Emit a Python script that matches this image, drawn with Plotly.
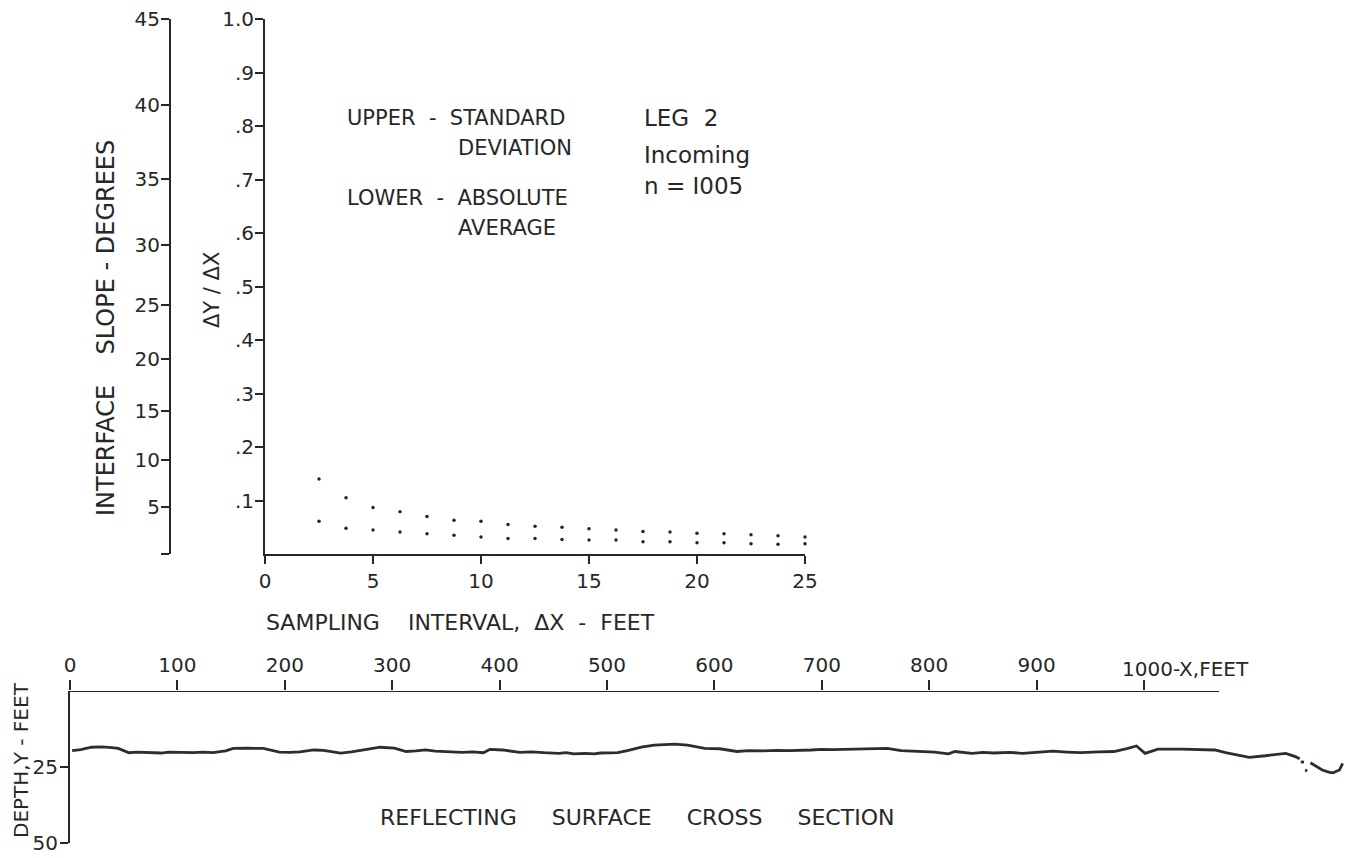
import numpy as np
import plotly.graph_objects as go

# ---------------- data ----------------
# Top chart: sampling interval (feet) vs. slope dy/dx
sampling_interval = [2.5, 3.75, 5.0, 6.25, 7.5, 8.75, 10.0, 11.25, 12.5, 13.75,
                     15.0, 16.25, 17.5, 18.75, 20.0, 21.25, 22.5, 23.75, 25.0]
upper_std_dev = [0.140, 0.105, 0.087, 0.079, 0.070, 0.063, 0.061, 0.055, 0.052, 0.050,
                 0.047, 0.045, 0.042, 0.041, 0.039, 0.038, 0.036, 0.034, 0.032]
lower_abs_avg = [0.061, 0.048, 0.045, 0.041, 0.038, 0.035, 0.032, 0.029, 0.029, 0.027,
                 0.026, 0.026, 0.023, 0.023, 0.021, 0.021, 0.019, 0.018, 0.019]

ratio_ticks = [0.1, 0.2, 0.3, 0.4, 0.5, 0.6, 0.7, 0.8, 0.9, 1.0]
ratio_tick_labels = [".1", ".2", ".3", ".4", ".5", ".6", ".7", ".8", ".9", "1.0"]
degree_ticks = [0, 5, 10, 15, 20, 25, 30, 35, 40, 45]
degree_tick_labels = ["", "5", "10", "15", "20", "25", "30", "35", "40", "45"]
interval_ticks = [0, 5, 10, 15, 20, 25]

# Bottom chart: reflecting surface cross section (x feet, depth feet); None = gap
profile_x = [2, 10, 20, 30, 39, 45, 50, 55, 62, 70, 78, 85, 92, 100, 108, 115, 124, 133,
             145, 152, 165, 180, 195, 205, 214, 227, 236, 245, 252, 262, 270, 280, 289,
             302, 313, 322, 331, 340, 350, 365, 375, 385, 391, 403, 419, 430, 441, 455,
             462, 469, 480, 488, 494, 500, 510, 519, 532, 544, 555, 563, 575, 591, 605,
             621, 632, 646, 658, 670, 690, 700, 710, 730, 745, 761, 774, 790, 805, 818,
             824, 840, 850, 860, 875, 887, 899, 915, 928, 941, 958, 972, 985, 993, 1001,
             1013, 1035, 1050, 1066, 1076, 1098, 1113, 1132, 1141, 1145,
             None, 1146, 1149, None, 1150, 1152, None,
             1155, 1160, 1166, 1172, 1176, 1182, 1185, None, 1190, 1199]
profile_depth = [19.6, 19.3, 18.5, 18.4, 18.6, 18.9, 19.6, 20.3, 20.1, 20.2, 20.5, 20.4,
                 20.1, 20.2, 20.4, 20.3, 20.1, 20.3, 19.7, 18.9, 18.8, 18.9, 20.1, 20.2,
                 20.0, 19.4, 19.5, 20.1, 20.4, 20.0, 19.6, 18.9, 18.5, 18.8, 19.9, 19.7,
                 19.4, 19.8, 19.9, 20.2, 20.0, 20.3, 19.2, 19.4, 20.2, 20.0, 20.3, 20.5,
                 20.3, 20.7, 20.5, 20.7, 20.4, 20.3, 20.3, 19.6, 18.5, 17.8, 17.6, 17.5,
                 17.8, 18.9, 19.0, 19.9, 19.6, 19.7, 19.5, 19.6, 19.4, 19.2, 19.3, 19.2,
                 19.1, 18.9, 19.6, 19.8, 20.1, 20.7, 19.9, 20.5, 20.2, 20.4, 20.2, 20.5,
                 20.1, 19.8, 20.1, 20.3, 20.0, 19.9, 18.9, 18.1, 20.5, 19.1, 19.1, 19.3,
                 19.4, 20.3, 21.8, 21.3, 20.5, 21.6, 22.3,
                 None, 23.3, 23.4, None, 26.0, 26.3, None,
                 23.6, 24.8, 26.0, 26.7, 26.9, 26.0, 23.8, None, 23.5, 23.6]
distance_ticks = [0, 100, 200, 300, 400, 500, 600, 700, 800, 900, 1000]
distance_tick_labels = ["0", "100", "200", "300", "400", "500", "600", "700", "800", "900", ""]
depth_ticks = [25, 50]
depth_tick_labels = ["25", "50"]
DISTANCE_AXIS_END = 1070

# ---------------- styling ----------------
INK = "#262826"
FONT = "DejaVu Sans"
W, H = 1354, 858
PAGE_OFFSET = 8  # default body margin of the html page


def px_x(p):
    return (p - PAGE_OFFSET) / W


def px_y(p):
    return 1 - (p - PAGE_OFFSET) / H


fig = go.Figure()

fig.add_trace(go.Scatter(x=sampling_interval, y=upper_std_dev, mode="markers",
                         marker=dict(size=3.5, color=INK), cliponaxis=False,
                         xaxis="x", yaxis="y", showlegend=False))
fig.add_trace(go.Scatter(x=sampling_interval, y=lower_abs_avg, mode="markers",
                         marker=dict(size=3.5, color=INK), cliponaxis=False,
                         xaxis="x", yaxis="y", showlegend=False))
# carrier trace so the degree axis is drawn
fig.add_trace(go.Scatter(x=[None], y=[None], mode="markers", xaxis="x", yaxis="y2",
                         showlegend=False, hoverinfo="skip"))
fig.add_trace(go.Scatter(x=profile_x, y=profile_depth, mode="lines",
                         line=dict(color="#27302a", width=2.8), connectgaps=False,
                         cliponaxis=False, xaxis="x2", yaxis="y3", showlegend=False))

axis_common = dict(showgrid=False, zeroline=False, showline=True, linecolor=INK,
                   linewidth=2, ticks="outside", tickcolor=INK, tickwidth=2,
                   automargin=False, ticklabeloverflow="allow",
                   tickfont=dict(family=FONT, size=20, color=INK))

top_y_domain = [px_y(554), px_y(19)]

fig.update_layout(
    width=W, height=H,
    margin=dict(l=0, r=0, t=0, b=0, autoexpand=False),
    paper_bgcolor="white", plot_bgcolor="white",
    font=dict(family=FONT, color=INK),
    xaxis=dict(axis_common, domain=[px_x(265), px_x(805)], range=[0, 25],
               tickvals=interval_ticks, ticklen=8, anchor="y"),
    yaxis=dict(axis_common, domain=top_y_domain, range=[0, 1],
               tickvals=ratio_ticks, ticktext=ratio_tick_labels, ticklen=8,
               ticklabelstandoff=-3, anchor="x"),
    yaxis2=dict(axis_common, overlaying="y", anchor="free", position=px_x(170),
                range=[0, 1], tickvals=list(np.tan(np.radians(degree_ticks))),
                ticktext=degree_tick_labels, ticklen=8, ticklabelstandoff=-3, side="left"),
    xaxis2=dict(axis_common, domain=[px_x(70), 1], range=[0, 1203], side="top",
                showline=False, tickvals=distance_ticks, ticktext=distance_tick_labels,
                ticklen=10, anchor="y3"),
    yaxis3=dict(axis_common, domain=[px_y(843), px_y(691)], range=[50, 0],
                tickvals=depth_ticks, ticktext=depth_tick_labels, ticklen=8,
                ticklabelstandoff=-2, anchor="x2"),
)

# distance axis line (stops at ~1070 ft as in the original)
fig.add_shape(type="line", xref="x2", yref="y3", x0=0, x1=DISTANCE_AXIS_END, y0=0, y1=0,
              line=dict(color=INK, width=2))


def ann(text, x, y, size=21, xanchor="left", angle=0):
    fig.add_annotation(text=text, xref="paper", yref="paper", x=px_x(x), y=px_y(y),
                       xanchor=xanchor, yanchor="middle", showarrow=False, textangle=angle,
                       font=dict(family=FONT, size=size, color=INK))


ann("UPPER  -  STANDARD", 345, 118)
ann("DEVIATION", 456, 148)
ann("LOWER  -  ABSOLUTE", 345, 198)
ann("AVERAGE", 456, 228)
ann("LEG  2", 642, 118, size=23)
ann("Incoming", 642, 155, size=23)
ann("n = I005", 642, 186, size=23)
ann("SAMPLING    INTERVAL,  ΔX  -  FEET", 264, 622, size=22)
ann("INTERFACE    SLOPE - DEGREES", 106, 328, size=24, xanchor="center", angle=-90)
ann("ΔY / ΔX", 212, 290, xanchor="center", angle=-90)
ann("DEPTH,Y - FEET", 21, 760, size=20, xanchor="center", angle=-90)
ann("REFLECTING     SURFACE     CROSS     SECTION", 637, 817, size=22, xanchor="center")
fig.add_annotation(text="1000-X,FEET", xref="x2", yref="paper", x=1000, y=px_y(669),
                   xanchor="left", xshift=-24, yanchor="middle", showarrow=False,
                   font=dict(family=FONT, size=20, color=INK))

fig.write_html("out.html")
